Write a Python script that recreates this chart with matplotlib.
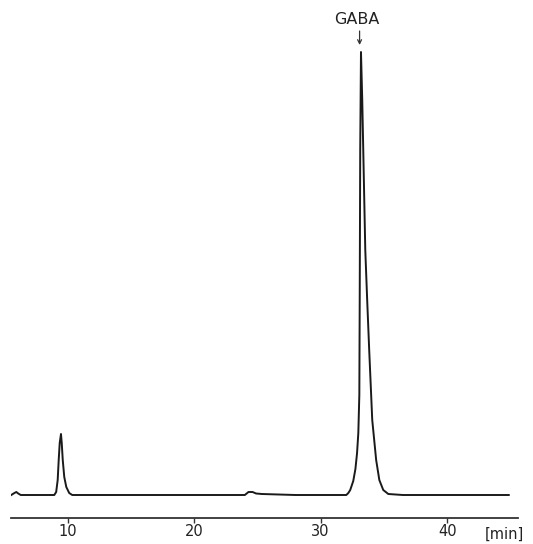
import numpy as np
import matplotlib
matplotlib.use("Agg")
import matplotlib.pyplot as plt

tiempos = [5.55, 5.80, 5.95, 6.10, 6.30, 7.50, 8.95, 9.10, 9.22, 9.30, 9.38, 9.48,
           9.54, 9.62, 9.74, 9.90, 10.13, 10.37, 15.0, 20.0, 24.01, 24.30, 24.62,
           24.90, 25.36, 28.0, 31.5, 32.03, 32.19, 32.34, 32.58, 32.75, 32.88, 32.98,
           33.06, 33.09, 33.13, 33.19, 33.29, 33.45, 33.53, 33.68, 33.84, 34.08,
           34.39, 34.64, 34.95, 35.35, 36.5, 40.0, 44.87]
senal = [0, 2, 3, 1.5, 0, 0, 0, 3, 15, 35, 52, 61,
         52, 35, 18, 8, 2, 0, 0, 0, 0, 3, 3,
         1.5, 1, 0, 0, 0, 2, 5, 14, 26, 42, 62,
         100, 195, 345, 443, 395, 295, 245, 195, 145, 75,
         35, 15, 5, 1, 0, 0, 0]

ticks_x = [10, 20, 30, 40]
pico_gaba = 33.19

fig = plt.figure(figsize=(5.33, 5.44), dpi=100)
ax = fig.add_axes([11 / 533, 26 / 544, 507 / 533, 513 / 544])

ax.plot(tiempos, senal, color="#1a1a1a", linewidth=1.4, solid_joinstyle="round")

ax.set_xlim(5.53, 45.6)
ax.set_ylim(-23, 490)

for lado in ["left", "right", "top"]:
    ax.spines[lado].set_visible(False)
ax.spines["bottom"].set_color("#333333")
ax.spines["bottom"].set_linewidth(1.3)
ax.set_yticks([])
ax.set_xticks(ticks_x)
ax.set_xticklabels([str(t) for t in ticks_x])
ax.tick_params(axis="x", direction="out", length=3.5, width=1.0, pad=1,
               labelsize=10.5, color="#333333", labelcolor="#222222")

# Etiqueta del pico y flecha
ax.text(32.85, 476, "GABA", ha="center", va="center", fontsize=11.5,
        color="#222222", clip_on=False)
ax.annotate("", xy=(33.08, 450), xytext=(33.08, 464),
            arrowprops=dict(arrowstyle="->", color="#333333", lw=0.9,
                            mutation_scale=7, shrinkA=0, shrinkB=0),
            annotation_clip=False)

fig.text(485 / 533, 2 / 544, "[min]", ha="left", va="bottom", fontsize=10.5, color="#222222")

fig.savefig("out.png", dpi=100)
